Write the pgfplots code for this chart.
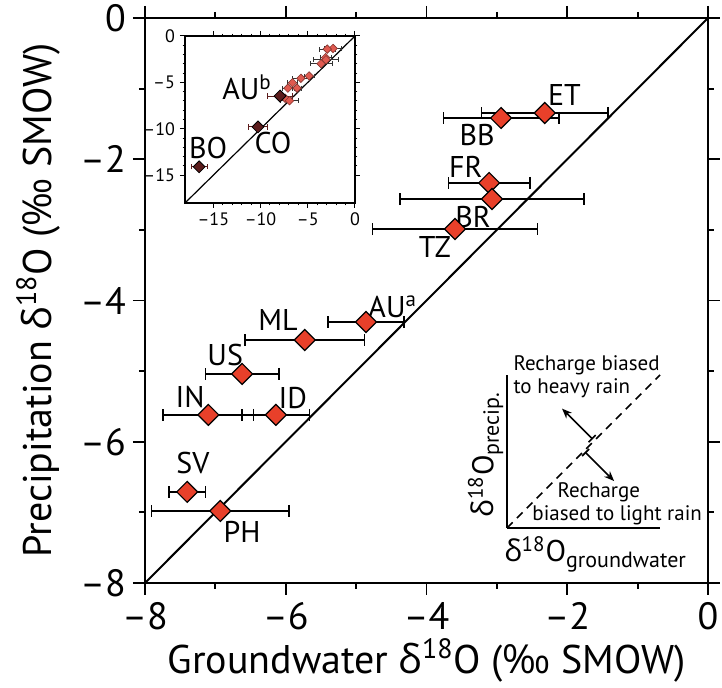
\documentclass[border=0pt]{standalone}
\usepackage{pgfplots}
\pgfplotsset{compat=1.18}
\usepackage{pgfplotstable}
\usetikzlibrary{arrows.meta}
\usepackage{fontspec}
\setmainfont{PT Sans}
\newfontfamily\symf{Open Sans}
\newcommand{\dO}{{\symf δ}\textsuperscript{18}O}
\definecolor{dred}{HTML}{E8402A}
\definecolor{lred}{HTML}{E05A50}
\definecolor{brn}{HTML}{5C1C1C}
\newcommand{\fs}[1]{\fontsize{#1}{#1}\selectfont}

\pgfplotstableread{
x y ex
-2.32 -1.345 0.90
-2.94 -1.416 0.82
-3.11 -2.336 0.58
-3.07 -2.563 1.31
-3.595 -2.988 1.17
-4.86 -4.304 0.54
-5.73 -4.56 0.85
-6.62 -5.04 0.52
-7.10 -5.62 0.64
-6.14 -5.62 0.48
-7.40 -6.71 0.26
-6.93 -6.98 0.98
}\maindata

\pgfplotstableread{
x y ex
-7.94 -6.47 1.3
-10.27 -9.8 1.0
-16.5 -14.1 0.85
}\darkdata

\begin{document}
\begin{tikzpicture}
\path[use as bounding box] (-72.5pt,-52.5pt) rectangle (288.5pt,291.5pt);
\begin{axis}[at={(0,0)}, anchor=south west, scale only axis,
  width=281.5pt, height=282.5pt,
  xmin=-8, xmax=0, ymin=-8, ymax=0,
  xtick={-8,-6,-4,-2,0}, xticklabels={–8,–6,–4,–2,0},
  ytick={-8,-6,-4,-2,0}, yticklabels={–8,–6,–4,–2,0},
  minor xtick={-7,-5,-3,-1}, minor ytick={-7,-5,-3,-1},
  tick align=outside, major tick length=6pt, minor tick length=3pt,
  every tick/.style={black, line width=0.9pt},
  axis line style={line width=1.3pt},
  tick label style={font=\fs{19}},
  xlabel={Groundwater \dO{} ({\symf ‰} SMOW)},
  ylabel={Precipitation \dO{} ({\symf ‰} SMOW)},
  label style={font=\fs{20}},
  xlabel style={at={(axis description cs:0.5,-0.137)}, anchor=center},
  ylabel style={at={(axis description cs:-0.19,0.5)}, anchor=center},
  clip=false]
\addplot[black, line width=1pt, forget plot] coordinates {(-8,-8)(0,0)};
\addplot[only marks, mark=square*, mark size=3.7pt,
  mark options={rotate=45, fill=dred, draw=black, line width=0.6pt},
  error bars/.cd, x dir=both, x explicit,
  error bar style={line width=0.8pt, black},
  error mark options={rotate=90, mark size=3pt, line width=0.8pt, black}]
  table[x=x, y=y, x error=ex]{\maindata};
\begin{scope}[font=\fs{15}]
\node at (axis cs:-2.04,-1.09) {ET};
\node at (axis cs:-3.28,-1.66) {BB};
\node at (axis cs:-3.44,-2.11) {FR};
\node at (axis cs:-3.34,-2.82) {BR};
\node at (axis cs:-3.88,-3.24) {TZ};
\node at (axis cs:-4.48,-4.09) {AU\textsuperscript{a}};
\node at (axis cs:-6.11,-4.28) {ML};
\node at (axis cs:-6.86,-4.77) {US};
\node at (axis cs:-7.36,-5.37) {IN};
\node at (axis cs:-5.90,-5.38) {ID};
\node at (axis cs:-7.32,-6.30) {SV};
\node at (axis cs:-6.62,-7.28) {PH};
\end{scope}
\end{axis}

% inset
\begin{axis}[at={(20pt,190pt)}, anchor=south west, scale only axis,
  width=85pt, height=83.5pt,
  xmin=-18, xmax=0, ymin=-18, ymax=0,
  xtick={-15,-10,-5,0}, xticklabels={–15,–10,–5,0},
  ytick={-15,-10,-5,0}, yticklabels={–15,–10,–5,0},
  minor tick num=4,
  tick align=outside, major tick length=2.5pt, minor tick length=1.2pt,
  every tick/.style={black, line width=0.5pt},
  axis line style={line width=0.6pt},
  tick label style={font=\fs{9}},
  xticklabel style={yshift=1pt}, yticklabel style={xshift=1pt},
  clip=false]
\addplot[black, line width=0.6pt, forget plot] coordinates {(-18,-18)(0,0)};
\addplot[only marks, mark=square*, mark size=1.5pt,
  mark options={rotate=45, fill=lred, draw=lred!60!black, line width=0.3pt},
  error bars/.cd, x dir=both, x explicit,
  error bar style={line width=0.4pt, black!80},
  error mark options={rotate=90, mark size=1.2pt, line width=0.4pt, black!80}]
  table[x=x, y=y, x error=ex]{\maindata};
\addplot[only marks, mark=square*, mark size=2.1pt,
  mark options={rotate=45, fill=brn, draw=black, line width=0.4pt},
  error bars/.cd, x dir=both, x explicit,
  error bar style={line width=0.5pt, brn},
  error mark options={rotate=90, mark size=1.3pt, line width=0.5pt, brn}]
  table[x=x, y=y, x error=ex]{\darkdata};
\begin{scope}[font=\fs{15}]
\node at (axis cs:-11.43,-5.5) {AU\textsuperscript{b}};
\node at (axis cs:-8.68,-11.53) {CO};
\node at (axis cs:-15.56,-12.07) {BO};
\end{scope}
\end{axis}

% schematic
\begin{axis}[at={(181pt,27.5pt)}, anchor=south west, scale only axis,
  width=76.5pt, height=76.5pt,
  xmin=0, xmax=1, ymin=0, ymax=1,
  axis x line=bottom, axis y line=left,
  axis line style={-, line width=0.8pt},
  xtick=\empty, ytick=\empty, clip=false]
\addplot[black, line width=0.8pt, dash pattern=on 4pt off 3pt] coordinates {(0,0)(1,1)};
\draw[{Bar[width=5pt]}-{Stealth[length=5pt,width=4pt]}, line width=0.8pt] (axis cs:0.56,0.58) -- (axis cs:0.36,0.78);
\draw[{Bar[width=5pt]}-{Stealth[length=5pt,width=4pt]}, line width=0.8pt] (axis cs:0.51,0.497) -- (axis cs:0.70,0.307);
\node[font=\fs{10.5}, anchor=north west, align=left, inner sep=0pt] at (axis cs:0.04,1.13) {Recharge biased\\[1pt]to heavy rain};
\node[font=\fs{10.5}] at (axis cs:0.60,0.235) {Recharge};
\node[font=\fs{10.5}] at (axis cs:0.72,0.085) {biased to light rain};
\node[rotate=90, font=\fs{15}] at (axis cs:-0.14,0.48) {\dO\textsubscript{\fs{11}precip.}};
\node[anchor=west, font=\fs{15}, inner sep=0pt] at (axis cs:-0.02,-0.17) {\dO\textsubscript{\fs{11}groundwater}};
\end{axis}
\end{tikzpicture}
\end{document}
